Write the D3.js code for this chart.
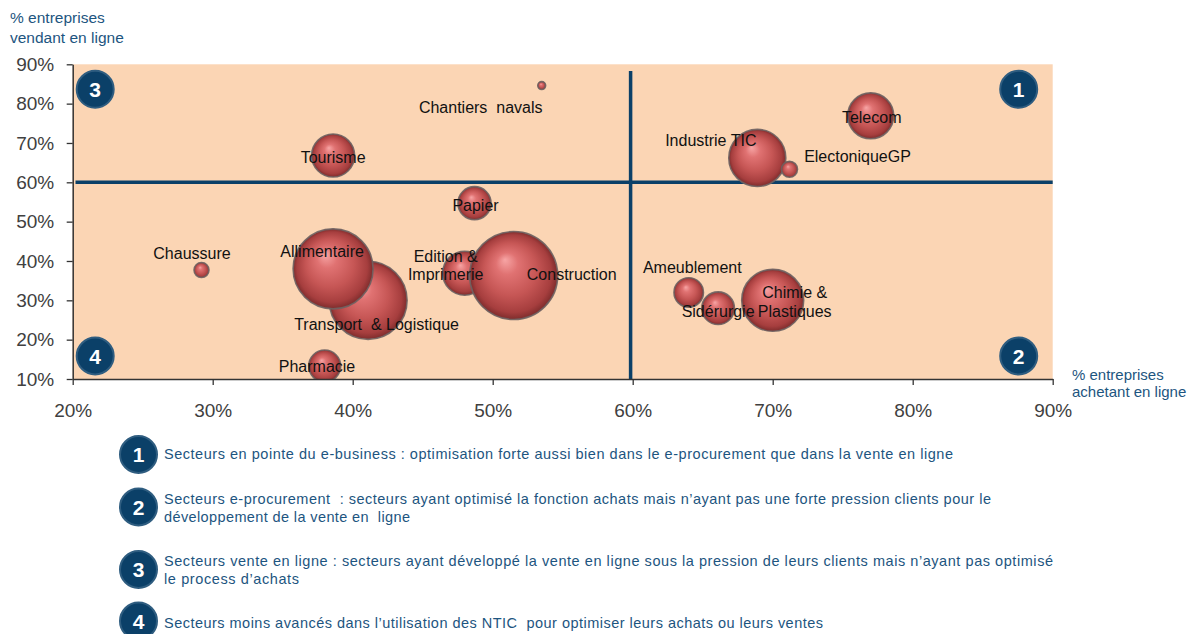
<!DOCTYPE html>
<html>
<head>
<meta charset="utf-8">
<script src="https://cdn.jsdelivr.net/npm/d3@7"></script>
<style>
  html, body { margin: 0; padding: 0; background: #ffffff; }
  svg { display: block; font-family: "Liberation Sans", Arial, sans-serif; }
</style>
</head>
<body>
<svg id="chart" width="1191" height="634"></svg>
<script>
// ---------- DATA ----------
const sectors = ["Chantiers  navals", "Tourisme", "Papier", "Industrie TIC", "ElectoniqueGP", "Telecom",
  "Chaussure", "Transport  & Logistique", "Allimentaire", "Edition &\nImprimerie", "Construction",
  "Pharmacie", "Ameublement", "Sidérurgie", "Chimie &\nPlastiques"];
const pctBuying  = [53.5, 38.6, 48.7, 68.9, 71.2, 77.0, 29.2, 41.1, 38.6, 48.0, 51.5, 38.0, 64.0, 66.1, 70.0];
const pctSelling = [84.6, 66.8, 54.7, 66.2, 63.3, 76.9, 37.7, 30.0, 38.0, 36.9, 36.3, 13.3, 32.0, 28.0, 30.0];
const bubbleSize = [0.8, 23.9, 14.1, 42, 3.3, 27.3, 2.9, 78.6, 82.6, 25, 100, 13.2, 11.2, 13.7, 49.6];

const xTicks = [20, 30, 40, 50, 60, 70, 80, 90];
const yTicks = [10, 20, 30, 40, 50, 60, 70, 80, 90];
const xSplit = 59.85;
const ySplit = 60;

const yTitle = ["% entreprises", "vendant en ligne"];
const xTitle = ["% entreprises", "achetant en ligne"];

const legendNumbers = ["1", "2", "3", "4"];
const legendTexts = [
  ["Secteurs en pointe du e-business : optimisation forte aussi bien dans le e-procurement que dans la vente en ligne"],
  ["Secteurs e-procurement  : secteurs ayant optimisé la fonction achats mais n’ayant pas une forte pression clients pour le",
   "développement de la vente en  ligne"],
  ["Secteurs vente en ligne : secteurs ayant développé la vente en ligne sous la pression de leurs clients mais n’ayant pas optimisé",
   "le process d’achats"],
  ["Secteurs moins avancés dans l’utilisation des NTIC  pour optimiser leurs achats ou leurs ventes"]
];

// ---------- LAYOUT (not data) ----------
// label offsets from bubble centre: [dx, dy of first baseline]
const labelOffsets = [[-61, 27], [0, 7.5], [1, 8], [-46.5, -12], [68, -7], [1, 7], [-9.5, -11], [8.5, 30],
  [-11, -12], [-19, -11.3], [58, 4.6], [-7.7, 6], [3.6, -19], [0, 8.7], [22, -2]];
const legendLayout = [
  { cy: 454.5, base: [459.3], len: [789] },
  { cy: 507, base: [503.5, 521.5], len: [827, 246] },
  { cy: 569.5, base: [565.5, 583.5], len: [889, 135] },
  { cy: 621, base: [628], len: [659] }
];
const quadBadges = [["3", 20, 90], ["1", 90, 90], ["4", 20, 10], ["2", 90, 10]];

// ---------- CHART ----------
const svg = d3.select("#chart");
const x = d3.scaleLinear().domain([20, 90]).range([72.7, 1052.7]);
const y = d3.scaleLinear().domain([10, 90]).range([379, 64.3]);
const r = d3.scaleSqrt().domain([0, 100]).range([0, 44]);

const navy = "#0b4068";
const textBlue = "#1d5580";

// background of plot
svg.append("rect")
  .attr("x", x(20)).attr("y", y(90))
  .attr("width", x(90) - x(20)).attr("height", y(10) - y(90))
  .attr("fill", "#fbd5b4");

// clip
svg.append("defs").append("clipPath").attr("id", "plotclip")
  .append("rect")
  .attr("x", x(20)).attr("y", y(90))
  .attr("width", x(90) - x(20)).attr("height", y(10) - y(90));

// gradient for 3D bubbles
const grad = svg.select("defs").append("radialGradient")
  .attr("id", "ball").attr("cx", "0.5").attr("cy", "0.5").attr("r", "0.5")
  .attr("fx", "0.4").attr("fy", "0.32");
[[0, "#f7a5a5"], [0.25, "#e07272"], [0.6, "#c65655"], [0.88, "#a63e3e"], [1, "#7e2c2c"]].forEach(s =>
  grad.append("stop").attr("offset", s[0]).attr("stop-color", s[1]));

// quadrant lines
svg.append("line")
  .attr("x1", x(20.2)).attr("x2", x(90)).attr("y1", y(ySplit)).attr("y2", y(ySplit))
  .attr("stroke", navy).attr("stroke-width", 3.5);
svg.append("line")
  .attr("x1", x(xSplit)).attr("x2", x(xSplit)).attr("y1", y(88.3)).attr("y2", y(10))
  .attr("stroke", navy).attr("stroke-width", 3.5);

// bubbles
const data = sectors.map((s, i) => ({ name: s, bx: pctBuying[i], sy: pctSelling[i], size: bubbleSize[i], off: labelOffsets[i] }));
const gB = svg.append("g").attr("clip-path", "url(#plotclip)");
gB.selectAll("circle").data(data).join("circle")
  .attr("cx", d => x(d.bx)).attr("cy", d => y(d.sy)).attr("r", d => r(d.size))
  .attr("fill", "url(#ball)")
  .attr("stroke", "#6e6262").attr("stroke-opacity", 0.9).attr("stroke-width", 1.6);

// axes
const axL = svg.append("g").attr("transform", `translate(${x(20)},0)`)
  .call(d3.axisLeft(y).tickValues(yTicks).tickFormat(d => d + "%").tickSize(6).tickSizeOuter(0).tickPadding(12.5));
const axB = svg.append("g").attr("transform", `translate(0,${y(10)})`)
  .call(d3.axisBottom(x).tickValues(xTicks).tickFormat(d => d + "%").tickSize(6).tickSizeOuter(0).tickPadding(19));
[axL, axB].forEach(a => {
  a.select(".domain").attr("stroke", "#333").attr("stroke-width", 1.5);
  a.selectAll(".tick line").attr("stroke", "#333").attr("stroke-width", 1.3);
  a.selectAll(".tick text").attr("fill", "#404040").attr("font-size", 19)
    .attr("font-family", "'Liberation Sans', Arial, sans-serif");
});

// bubble labels
const gL = svg.append("g");
data.forEach(d => {
  const lines = d.name.split("\n");
  const t = gL.append("text")
    .attr("text-anchor", "middle").attr("font-size", 16).attr("fill", "#111")
    .style("white-space", "pre");
  lines.forEach((ln, k) => {
    t.append("tspan")
      .attr("x", x(d.bx) + d.off[0])
      .attr("y", y(d.sy) + d.off[1] + k * 18.5)
      .text(ln);
  });
});

// quadrant badges
function badge(g, cx, cy, label) {
  g.append("circle").attr("cx", cx).attr("cy", cy).attr("r", 18.5)
    .attr("fill", navy).attr("stroke", "#2f5d80").attr("stroke-width", 2);
  g.append("text").attr("x", cx).attr("y", cy + 7.5).attr("text-anchor", "middle")
    .attr("font-size", 21).attr("font-weight", "bold").attr("fill", "#ffffff").text(label);
}
const gQ = svg.append("g");
quadBadges.forEach(b => {
  const cx = b[1] === 20 ? x(20) + 22.5 : x(90) - 34;
  const cy = b[2] === 90 ? y(90) + 25 : y(10) - 23;
  badge(gQ, cx, cy, b[0]);
});

// axis titles
yTitle.forEach((t, k) => svg.append("text").attr("x", 10).attr("y", 23 + k * 19.5)
  .attr("font-size", 15.5).attr("fill", textBlue).text(t));
xTitle.forEach((t, k) => svg.append("text").attr("x", 1072).attr("y", 379.5 + k * 17)
  .attr("font-size", 15).attr("fill", textBlue).text(t));

// legend
const gLeg = svg.append("g");
legendTexts.forEach((lines, i) => {
  const lay = legendLayout[i];
  badge(gLeg, 138.5, lay.cy, legendNumbers[i]);
  lines.forEach((ln, k) => {
    gLeg.append("text").attr("x", 164).attr("y", lay.base[k])
      .attr("font-size", 14.5).attr("fill", textBlue)
      .attr("textLength", lay.len[k]).attr("lengthAdjust", "spacing")
      .style("white-space", "pre").text(ln);
  });
});
</script>
</body>
</html>
